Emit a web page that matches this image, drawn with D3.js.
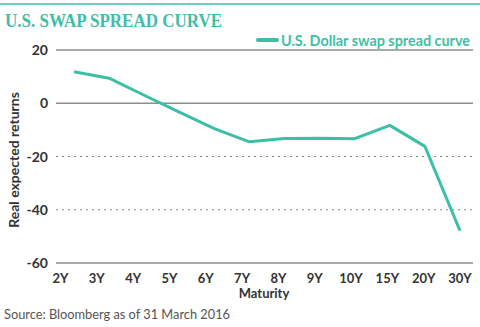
<!DOCTYPE html>
<html><head><meta charset="utf-8">
<script src="https://cdn.jsdelivr.net/npm/d3@7"></script>
<style>
body{margin:0;background:#fff;}
svg{display:block;}
</style></head>
<body>
<svg id="c" width="480" height="327"></svg>
<script>
const categories = ["2Y","3Y","4Y","5Y","6Y","7Y","8Y","9Y","10Y","15Y","20Y","30Y"];
const spreadValues = [11.8, 9.4, 3.0, -3.3, -9.5, -14.5, -13.2, -13.1, -13.3, -8.3, -16.2, -47.9];
const yTicks = [20, 0, -20, -40, -60];
const dottedTicks = [-20, -40];
const seriesName = "U.S. Dollar swap spread curve";

const teal = "#3dbfa7";
const cond = "Lato,'DejaVu Sans Condensed',sans-serif";
const svg = d3.select("#c");

// top rule
svg.append("line").attr("x1",0).attr("x2",480).attr("y1",4).attr("y2",4)
  .attr("stroke",teal).attr("stroke-width",1.5);
svg.append("text").attr("x",5).attr("y",27)
  .attr("font-family","'Liberation Serif','DejaVu Serif',serif").attr("font-weight","bold")
  .attr("font-size",19).attr("fill",teal)
  .attr("textLength",217).attr("lengthAdjust","spacingAndGlyphs")
  .text("U.S. SWAP SPREAD CURVE");

const y = d3.scaleLinear().domain([-60,20]).range([263,50]);
const xLab = d3.scalePoint().domain(categories).range([60.5,460]);
const xPt = d3.scalePoint().domain(categories).range([74,460]);

const g = svg.append("g");
g.selectAll("line.grid").data(yTicks).join("line").attr("class","grid")
  .attr("x1",56).attr("x2",473)
  .attr("y1",d=>y(d)).attr("y2",d=>y(d))
  .attr("stroke",d=>dottedTicks.includes(d)?"#8a8a8a":"#8c8c8c")
  .attr("stroke-width",d=>dottedTicks.includes(d)?1:1.3)
  .attr("stroke-dasharray",d=>dottedTicks.includes(d)?"2,4":null);

g.selectAll("text.yl").data(yTicks).join("text").attr("class","yl")
  .attr("x",48).attr("y",d=>y(d)).attr("dy","0.36em").attr("text-anchor","end")
  .attr("font-family",cond).attr("font-weight","bold").attr("font-size",14).attr("fill","#333")
  .text(d=>d);

g.selectAll("text.xl").data(categories).join("text").attr("class","xl")
  .attr("x",d=>xLab(d)).attr("y",282.5).attr("text-anchor","middle")
  .attr("font-family",cond).attr("font-weight","bold").attr("font-size",13).attr("fill","#333")
  .text(d=>d);

svg.append("text").attr("x",264).attr("y",298).attr("text-anchor","middle")
  .attr("font-family",cond).attr("font-weight","bold").attr("font-size",13).attr("fill","#333")
  .text("Maturity");

svg.append("text").attr("transform","translate(19,160) rotate(-90)").attr("text-anchor","middle")
  .attr("font-family",cond).attr("font-weight","bold").attr("font-size",14).attr("fill","#333")
  .text("Real expected returns");

svg.append("text").attr("x",4).attr("y",319)
  .attr("font-family",cond).attr("font-size",14).attr("fill","#555")
  .attr("textLength",226).attr("lengthAdjust","spacingAndGlyphs")
  .text("Source: Bloomberg as of 31 March 2016");

const line = d3.line().x((d,i)=>xPt(categories[i])).y(d=>y(d));
svg.append("path").datum(spreadValues).attr("d",line)
  .attr("fill","none").attr("stroke",teal).attr("stroke-width",3).attr("stroke-linejoin","round");

// legend
svg.append("line").attr("x1",258).attr("x2",277).attr("y1",40).attr("y2",40)
  .attr("stroke",teal).attr("stroke-width",4).attr("stroke-linecap","round");
svg.append("text").attr("x",281).attr("y",45.5)
  .attr("font-family",cond).attr("font-weight","bold").attr("font-size",14.5).attr("fill",teal)
  .attr("textLength",189).attr("lengthAdjust","spacingAndGlyphs")
  .text(seriesName);
</script>
</body></html>
